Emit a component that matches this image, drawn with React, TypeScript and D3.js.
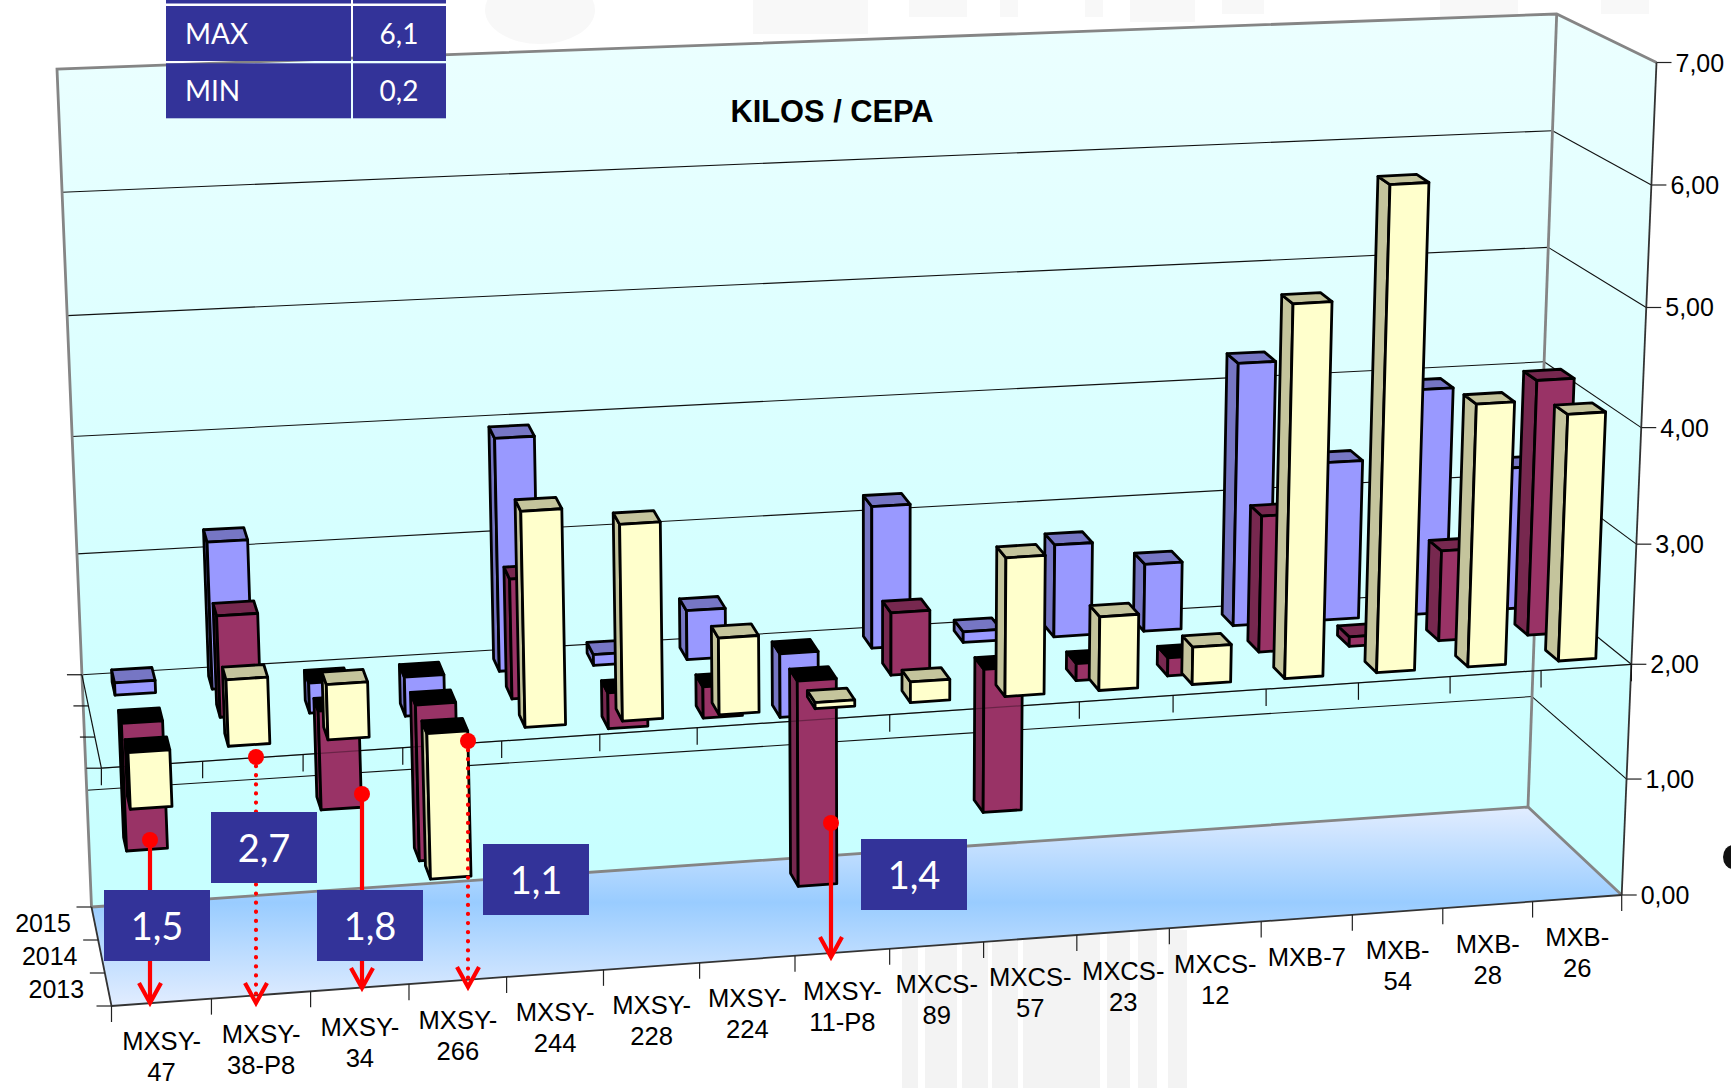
import React from "react";
import * as d3 from "d3";

const categories = [
  ["MXSY-", "47"], ["MXSY-", "38-P8"], ["MXSY-", "34"], ["MXSY-", "266"],
  ["MXSY-", "244"], ["MXSY-", "228"], ["MXSY-", "224"], ["MXSY-", "11-P8"],
  ["MXCS-", "89"], ["MXCS-", "57"], ["MXCS-", "23"], ["MXCS-", "12"],
  ["MXB-7"], ["MXB-", "54"], ["MXB-", "28"], ["MXB-", "26"],
];
const blue2015 = [2.1, 3.22, 1.74, 1.66, 3.97, 2.09, 2.41, 1.44, 3.2, 2.09, 2.78, 2.57, 4.27, 3.36, 3.96, 3.22];
const purple2014 = [0.91, 2.83, 1.15, 0.66, 2.99, 1.69, 1.73, 0.22, 2.52, 0.75, 1.85, 1.84, 3.15, 2.08, 2.76, 4.19];
const yellow2013 = [1.52, 2.54, 2.45, 0.76, 3.79, 3.63, 2.63, 2.05, 2.17, 3.15, 2.61, 2.31, 5.14, 6.07, 4.22, 4.09];
const years = ["2013", "2014", "2015"];
const valueTicks = [0, 1, 2, 3, 4, 5, 6, 7];
const tickSpacing = [0, 0.975, 1.94, 2.95, 3.93, 4.94, 5.97, 7];
const tableRows = [["MAX", "6,1"], ["MIN", "0,2"]];
const calloutValues = ["1,5", "2,7", "1,8", "1,1", "1,4"];

const W = 1731, H = 1088;
const CROSS = 2;
const vDomain = [0, 7];
const vWarp = d3.scaleLinear(valueTicks, tickSpacing);
const corner = (x0: number, x7: number, y0: number, y7: number) => ({
  x: d3.scaleLinear(vDomain, [x0, x7]),
  y: d3.scaleLinear(vDomain, [y0, y7]),
});
const FL = corner(111.5, 75, 1006, 148);
const FR = corner(1621.7, 1656.5, 895, 62.5);
const BL = corner(91.5, 57, 907, 69);
const BR = corner(1528, 1556.7, 807, 14);

const warpW = 1.063;
const warp = (u: number) => (warpW * u) / (1 - u + warpW * u);
const mix = d3.interpolateNumber;
function P(u: number, d: number, value: number): [number, number] {
  const t = warp(u);
  const v = vWarp(value);
  const fx = mix(FL.x(v), FR.x(v))(t), fy = mix(FL.y(v), FR.y(v))(t);
  const bx = mix(BL.x(v), BR.x(v))(t), by = mix(BL.y(v), BR.y(v))(t);
  return [mix(fx, bx)(d), mix(fy, by)(d)];
}
const xBand = d3.scaleLinear([0, categories.length], [0, 1]);
const path = d3.line();
const poly = (pts: [number, number][]) => path(pts) + "Z";
const seg = (a: [number, number], b: [number, number]) => path([a, b]) as string;

const rows = [
  { values: yellow2013, center: 1 / 6, skew: 0.05, front: "#FFFFCC", dark: "#C4C49C" },
  { values: purple2014, center: 1 / 2, skew: 0.03, front: "#993366", dark: "#77284F" },
  { values: blue2015, center: 5 / 6, skew: 0, front: "#9999FF", dark: "#7676C4" },
];
const barHalfW = 0.208, barHalfD = 0.07;

function Bar({ i, v, row }: any) {
  const u0 = xBand(i + 0.5 - barHalfW), u1 = xBand(i + 0.5 + barHalfW);
  const c = row.center + row.skew * (1 - xBand(i + 0.5));
  const df = c - barHalfD, db = c + barHalfD;
  const hi = Math.max(v, CROSS), lo = Math.min(v, CROSS);
  const capColor = v < CROSS ? "#000" : row.dark;
  const common = { stroke: "#000", strokeWidth: 2.8, strokeLinejoin: "round" as const };
  return (
    <g {...common}>
      <path d={poly([P(u0, df, lo), P(u0, df, hi), P(u0, db, hi), P(u0, db, lo)])} fill={row.dark} />
      <path d={poly([P(u0, df, hi), P(u1, df, hi), P(u1, db, hi), P(u0, db, hi)])} fill={capColor} />
      <path d={poly([P(u0, df, lo), P(u1, df, lo), P(u1, df, hi), P(u0, df, hi)])} fill={row.front} />
    </g>
  );
}

const callouts = [
  { box: [104, 890], x: 150, y0: 840, y1: 1003, dotted: false },
  { box: [211, 812], x: 256, y0: 757, y1: 1003, dotted: true },
  { box: [317, 890], x: 362, y0: 794, y1: 988, dotted: false },
  { box: [483, 844], x: 468, y0: 741, y1: 987, dotted: true },
  { box: [861, 839], x: 831, y0: 823, y1: 957, dotted: false },
];
const boxW = 106, boxH = 71;
const NAVY = "#333399";
const RED = "#FF0000";
const sans = "'Liberation Sans', Arial, sans-serif";
const calibri = "Lato, 'Open Sans', sans-serif";
const stripes = [[902, 16], [925, 32], [962, 26], [992, 26], [1023, 77], [1107, 23], [1138, 19], [1168, 19]];
const topMarks = [[753, 115, 34], [909, 58, 17], [1000, 18, 17], [1085, 18, 17], [1130, 65, 22], [1222, 42, 14], [1440, 78, 22], [1601, 48, 14]];

export default function App() {
  const uTicks = d3.range(categories.length + 1).map(xBand);
  const dTicks = [0, 1 / 3, 2 / 3, 1];
  return (
    <svg width={W} height={H} viewBox={`0 0 ${W} ${H}`}
      style={{ position: "fixed", left: 0, top: 0, display: "block", background: "#fff" }}>
      <defs>
        <linearGradient id="wall" gradientUnits="userSpaceOnUse" x1="0" y1="14" x2="0" y2="850">
          <stop offset="0" stopColor="#ECFFFF" />
          <stop offset="1" stopColor="#C8FFFF" />
        </linearGradient>
        <linearGradient id="floor" gradientUnits="userSpaceOnUse" x1="0" y1="807" x2="0" y2="1006">
          <stop offset="0" stopColor="#E2EDFF" />
          <stop offset="0.48" stopColor="#99CCFF" />
          <stop offset="1" stopColor="#E2EDFF" />
        </linearGradient>
      </defs>

      {/* faint background watermark */}
      <g fill="#F3F3F3">
        {stripes.map(([x, w]) => <rect key={x} x={x} y={930} width={w} height={158} />)}
      </g>
      <g fill="#F8F8F8">
        <ellipse cx={540} cy={10} rx={55} ry={34} />
        {topMarks.map(([x, w, h]) => <rect key={x} x={x} y={0} width={w} height={h} />)}
      </g>
      <ellipse cx={1733} cy={857} rx={10} ry={12} fill="#111" />

      {/* walls and floor */}
      <path d={poly([P(1, 0, 0), P(1, 1, 0), P(1, 1, 7), P(1, 0, 7)])} fill="url(#wall)" />
      <path d={poly([P(0, 1, 0), P(1, 1, 0), P(1, 1, 7), P(0, 1, 7)])} fill="url(#wall)" />
      <path d={poly([P(0, 0, 0), P(1, 0, 0), P(1, 1, 0), P(0, 1, 0)])} fill="url(#floor)" />

      {/* gridlines on the walls */}
      <g stroke="#111" strokeWidth={1.1} fill="none">
        {valueTicks.filter((t) => t > 0 && t < 7).map((t) => (
          <g key={t}>
            <path d={seg(P(0, 1, t), P(1, 1, t))} />
            <path d={seg(P(1, 1, t), P(1, 0, t))} />
          </g>
        ))}
      </g>

      {/* wall frame */}
      <g stroke="#858585" strokeWidth={2.8} fill="none" strokeLinejoin="miter">
        <path d={path([P(0, 1, 0), P(0, 1, 7), P(1, 1, 7), P(1, 0, 7)]) as string} />
        <path d={seg(P(1, 1, 0), P(1, 1, 7))} />
        <path d={path([P(0, 1, 0), P(1, 1, 0), P(1, 0, 0)]) as string} />
      </g>
      <g stroke="#333" strokeWidth={1.8} fill="none">
        <path d={seg(P(1, 0, 0), P(1, 0, 7))} />
        <path d={seg(P(0, 0, 0), P(1, 0, 0))} />
        <path d={seg(P(0, 0, 0), P(0, 1, 0))} />
      </g>

      {/* category axis plane at the crossing value */}
      <g stroke="#111" strokeWidth={1.2} fill="none">
        <path d={seg(P(0, 0, CROSS), P(1, 0, CROSS))} />
        <path d={seg(P(0, 0, CROSS), P(0, 1, CROSS))} />
        {uTicks.map((u, i) => {
          const [x, y] = P(u, 0, CROSS);
          return <path key={i} d={seg([x, y], [x, y + 17])} />;
        })}
        {dTicks.map((d, i) => {
          const [x, y] = P(0, d, CROSS);
          return <path key={i} d={seg([x - 15, y], [x, y])} />;
        })}
      </g>

      {/* ticks at the floor */}
      <g stroke="#222" strokeWidth={1.2} fill="none">
        {uTicks.map((u, i) => {
          const [x, y] = P(u, 0, 0);
          return <path key={i} d={seg([x, y], [x, y + 16])} />;
        })}
        {dTicks.map((d, i) => {
          const [x, y] = P(0, d, 0);
          return <path key={i} d={seg([x - 15, y], [x, y])} />;
        })}
        {valueTicks.map((t) => {
          const [x, y] = P(1, 0, t);
          return <path key={t} d={seg([x, y], [x + 15, y])} />;
        })}
      </g>

      {/* bars, back row first */}
      {[2, 1].map((r) => (
        <g key={r}>
          {rows[r].values.map((v, i) => <Bar key={i} i={i} v={v} row={rows[r]} />)}
        </g>
      ))}
      <g stroke="#000" strokeOpacity={0.3} strokeWidth={1.2} fill="none">
        <path d={seg(P(0, 0, CROSS), P(1, 0, CROSS))} />
      </g>
      <g>
        {rows[0].values.map((v, i) => <Bar key={i} i={i} v={v} row={rows[0]} />)}
      </g>

      {/* axis labels */}
      <g fontFamily={sans} fontSize={25} fill="#000">
        {valueTicks.map((t) => {
          const [x, y] = P(1, 0, t);
          return <text key={t} x={x + 19} y={y + 9}>{t.toFixed(2).replace(".", ",")}</text>;
        })}
        {years.map((yr, i) => {
          const [x, y] = P(0, rows[i].center, 0);
          return <text key={yr} x={x - 24} y={y + 8} textAnchor="end">{yr}</text>;
        })}
        {categories.map((lines, i) => {
          const [x, y] = P(xBand(i + 0.5), 0, 0);
          return (
            <text key={i} x={x} y={y + 48} textAnchor="middle" fontSize={25.6}>
              {lines.map((l, j) => <tspan key={j} x={x} dy={j ? 31 : 0}>{l}</tspan>)}
            </text>
          );
        })}
      </g>
      <text x={832} y={122} textAnchor="middle" fontFamily={sans} fontWeight={700} fontSize={30.8}>KILOS / CEPA</text>

      {/* table */}
      <g>
        <rect x={166} y={0} width={185} height={3.5} fill={NAVY} />
        <rect x={353} y={0} width={93} height={3.5} fill={NAVY} />
        {tableRows.map(([a, b], i) => {
          const y = 6 + i * 57.3;
          return (
            <g key={a} fill={NAVY}>
              <rect x={166} y={y} width={185} height={55} />
              <rect x={353} y={y} width={93} height={55} />
              <text x={185} y={y + 38} fill="#fff" fontFamily={calibri} fontSize={28}>{a}</text>
              <text x={399} y={y + 38} fill="#fff" fontFamily={calibri} fontSize={28} textAnchor="middle">{b}</text>
            </g>
          );
        })}
      </g>

      {/* red arrows */}
      <g stroke={RED} fill="none" strokeWidth={4.2}>
        {callouts.map((c, i) => (
          <g key={i}>
            <circle cx={c.x} cy={c.y0} r={8} fill={RED} stroke="none" />
            <path d={seg([c.x, c.y0], [c.x, c.y1 - 2])}
              strokeDasharray={c.dotted ? "0.1 9" : undefined} strokeLinecap={c.dotted ? "round" : "butt"} />
            <path d={path([[c.x - 11, c.y1 - 20], [c.x, c.y1], [c.x + 11, c.y1 - 20]]) as string} strokeLinejoin="miter" />
          </g>
        ))}
      </g>
      {callouts.map((c, i) => (
        <g key={i}>
          <rect x={c.box[0]} y={c.box[1]} width={boxW} height={boxH} fill={NAVY} />
          <text x={c.box[0] + boxW / 2} y={c.box[1] + 50} textAnchor="middle" fill="#fff" fontFamily={calibri} fontSize={38}>{calloutValues[i]}</text>
        </g>
      ))}
    </svg>
  );
}
